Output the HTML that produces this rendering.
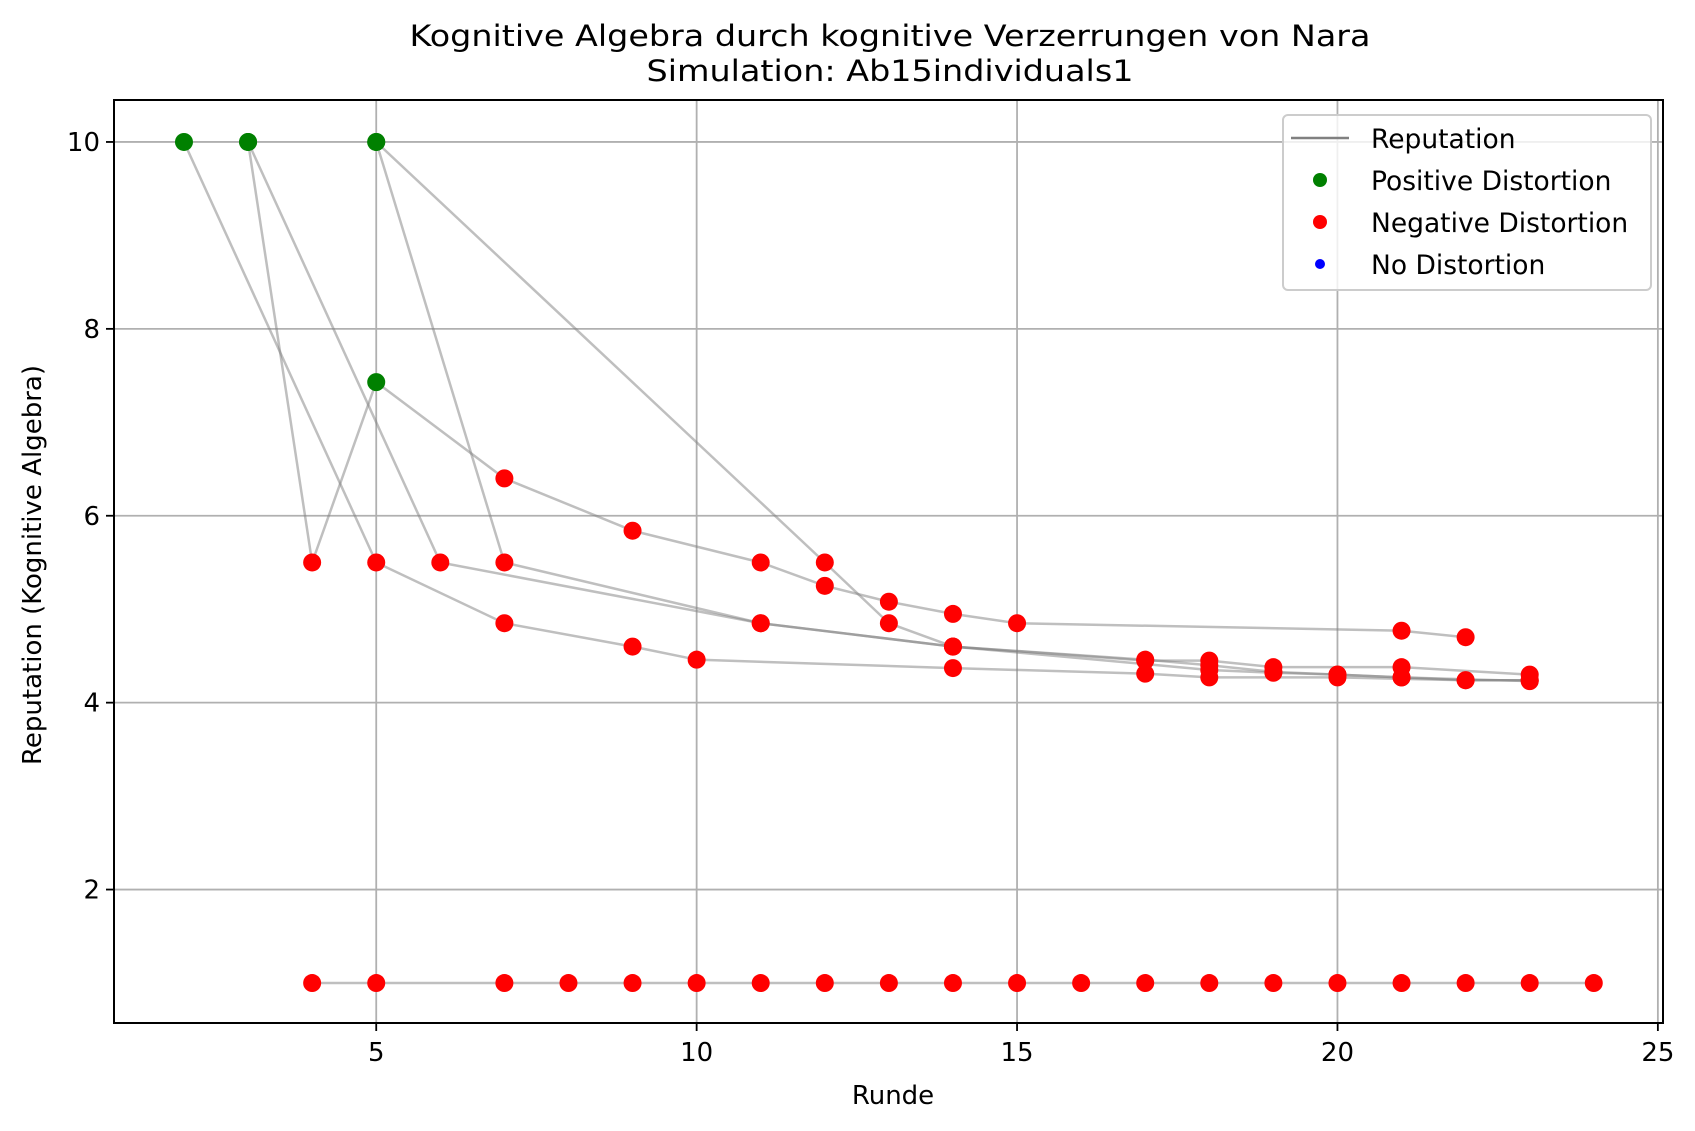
<!DOCTYPE html>
<html><head><meta charset="utf-8">
<style>
html,body{margin:0;padding:0;background:#fff;}
svg{display:block;font-family:"DejaVu Sans","Liberation Sans",sans-serif;}
</style></head>
<body>
<svg id="chart" width="1695" height="1131" viewBox="0 0 1695 1131" xmlns="http://www.w3.org/2000/svg">
<rect width="1695" height="1131" fill="#fff"/>
<text x="890" y="46" font-size="29" text-anchor="middle" textLength="961" lengthAdjust="spacingAndGlyphs">Kognitive Algebra durch kognitive Verzerrungen von Nara</text>
<text x="890" y="81" font-size="29" text-anchor="middle" textLength="487" lengthAdjust="spacingAndGlyphs">Simulation: Ab15individuals1</text>
<g id="grid"></g>
<g id="lines"></g>
<g id="points"></g>
<rect x="114" y="100" width="1549" height="923" fill="none" stroke="#000" stroke-width="2"/>
<g id="ticks"></g>
<text x="893" y="1104" font-size="26" text-anchor="middle">Runde</text>
<text transform="translate(41,565) rotate(-90)" font-size="26" text-anchor="middle">Reputation (Kognitive Algebra)</text>
<g>
<rect x="1283" y="115" width="368" height="175" rx="5" fill="#fff" fill-opacity="0.8" stroke="#ccc" stroke-width="2"/>
<line x1="1291" y1="138" x2="1349" y2="138" stroke="#808080" stroke-width="2.5"/>
<text x="1371" y="148" font-size="26.5">Reputation</text>
<circle cx="1320" cy="180" r="7" fill="green"/>
<text x="1371" y="190" font-size="26.5">Positive Distortion</text>
<circle cx="1320" cy="222" r="7" fill="red"/>
<text x="1371" y="232" font-size="26.5">Negative Distortion</text>
<circle cx="1320" cy="264" r="5" fill="blue"/>
<text x="1371" y="274" font-size="26.5">No Distortion</text>
</g>
</svg>
<script>
const xTicks = [5, 10, 15, 20, 25];
const yTicks = [2, 4, 6, 8, 10];
const seriesA = [[2,10],[5,5.5],[7,4.85],[9,4.6],[10,4.46],[14,4.37],[17,4.31],[18,4.27],[20,4.27],[22,4.24],[23,4.24]];
const seriesB = [[3,10],[4,5.5],[5,7.43],[7,6.4],[9,5.84],[11,5.5],[12,5.25],[13,5.08],[14,4.95],[15,4.85],[21,4.77],[22,4.7]];
const seriesC = [[3,10],[6,5.5],[11,4.85],[14,4.6],[17,4.46],[18,4.4],[19,4.33],[20,4.3],[21,4.27],[23,4.23]];
const seriesD = [[5,10],[7,5.5],[11,4.85],[14,4.6],[17,4.45],[18,4.45],[19,4.38],[21,4.38],[23,4.3]];
const seriesE = [[5,10],[12,5.5],[13,4.85],[14,4.6],[18,4.35],[19,4.32],[20,4.3],[21,4.27],[22,4.24],[23,4.24]];
const seriesF = [[4,1],[5,1],[7,1],[8,1],[9,1],[10,1],[11,1],[12,1],[13,1],[14,1],[15,1],[16,1],[17,1],[18,1],[19,1],[20,1],[21,1],[22,1],[23,1],[24,1]];
const allSeries = [seriesA, seriesB, seriesC, seriesD, seriesE, seriesF];
const positivePoints = [[2,10],[3,10],[5,10],[5,7.43]];

const X0 = 114, X1 = 1663, Y0 = 100, Y1 = 1023;
const xMin = 0.908, xMax = 25.08, yMin = 0.572, yMax = 10.449;
function xs(v){ return X0 + (v - xMin) / (xMax - xMin) * (X1 - X0); }
function ys(v){ return Y1 - (v - yMin) / (yMax - yMin) * (Y1 - Y0); }
const NS = "http://www.w3.org/2000/svg";
function mk(tag, attrs, parent){ const e = document.createElementNS(NS, tag); for (const k in attrs) e.setAttribute(k, attrs[k]); parent.appendChild(e); return e; }
const grid = document.getElementById('grid'), ticks = document.getElementById('ticks');
const lines = document.getElementById('lines'), points = document.getElementById('points');

xTicks.forEach(t => {
  const x = xs(t);
  const g = mk('line', {x1:x, y1:Y0, x2:x, y2:Y1, stroke:'#b0b0b0', 'stroke-width':1.8}, grid);
  
  
  const tk = mk('line', {x1:x, y1:Y1, x2:x, y2:Y1+8, stroke:'#000', 'stroke-width':1.8}, ticks);
  
  
  const tl = mk('text', {x:x, y:Y1+38, 'font-size':26, 'text-anchor':'middle'}, ticks);
  tl.textContent = t;
  
  
});
yTicks.forEach(t => {
  const y = ys(t);
  const g = mk('line', {x1:X0, y1:y, x2:X1, y2:y, stroke:'#b0b0b0', 'stroke-width':1.8}, grid);
  
  
  const tk = mk('line', {x1:X0-8, y1:y, x2:X0, y2:y, stroke:'#000', 'stroke-width':1.8}, ticks);
  
  
  const tl = mk('text', {x:X0-14, y:y+9, 'font-size':26, 'text-anchor':'end'}, ticks);
  tl.textContent = t;
  
  
});
allSeries.forEach(s => {
  const pl = mk('polyline', {points: s.map(p => xs(p[0]) + ',' + ys(p[1])).join(' '), fill:'none', stroke:'#808080', 'stroke-opacity':0.5, 'stroke-width':2.5}, lines);
  
  
});
allSeries.forEach(s => {
  s.forEach(p => {
    const pos = positivePoints.some(q => q[0] === p[0] && q[1] === p[1]);
    const c = mk('circle', {cx: xs(p[0]), cy: ys(p[1]), r: 9, fill: pos ? 'green' : 'red'}, points);
    
    
  });
});
</script>
</body></html>
